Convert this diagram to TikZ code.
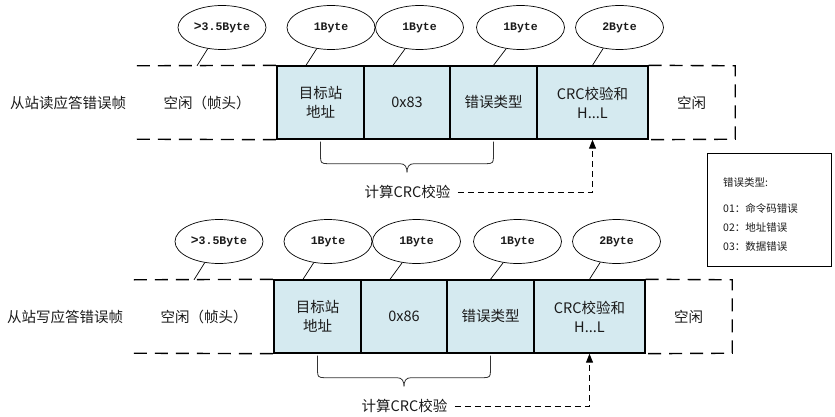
\documentclass[tikz,border=0pt]{standalone}
\usepackage{fontspec}
\setmainfont{Noto Sans CJK SC}
\newfontfamily\bytefont{Liberation Mono}
\usetikzlibrary{shapes.geometric,arrows.meta,calc}
\definecolor{boxblue}{HTML}{D5EAF0}
\definecolor{txt}{HTML}{1A1A1A}
\newcommand\myrow[5]{%
\node[lbl] (lab#1) at (68+#4,103+#5) {#2};
\node[idle,minimum width=140pt] (il#1) at (207+#4,102.5+#5) {空闲（帧头）};
\node[fld,minimum width=87pt] (ba#1) at (320.5+#4,102.5+#5) {目标站\\地址};
\node[fld,minimum width=86pt] (bb#1) at (407+#4,102.5+#5) {#3};
\node[fld,minimum width=87pt] (bc#1) at (493.5+#4,102.5+#5) {错误类型};
\node[fld,minimum width=111pt] (bd#1) at (592.5+#4,102.5+#5) {CRC校验和\\H...L};
\node[idle,minimum width=87pt] (ir#1) at (691.5+#4,102.5+#5) {空闲};
\draw[frm] (il#1.north west) -- (ba#1.north west);
\draw[frm] (il#1.south west) -- (ba#1.south west);
\draw[frm] (bd#1.north east) -- (ir#1.north east) -- (ir#1.south east) -- (bd#1.south east);
\node[bt] (ea#1) at (222+#4,27.5+#5) {{\fontsize{13}{12}\selectfont>}3.5Byte};
\node[bt] (eb#1) at (331+#4,27.5+#5) {1Byte};
\node[bt] (ec#1) at (419.5+#4,27.5+#5) {1Byte};
\node[bt] (ed#1) at (520.5+#4,27.5+#5) {1Byte};
\node[bt] (ee#1) at (619.5+#4,27.5+#5) {2Byte};
\draw[call] (ea#1.-124) -- ([xshift=-10pt]il#1.north);
\draw[call] (eb#1.-124) -- ([xshift=-14.5pt]ba#1.north);
\draw[call] (ec#1.-124) -- ([xshift=-14pt]bb#1.north);
\draw[call] (ed#1.-124) -- (bc#1.north);
\draw[call] (ee#1.-128) -- (bd#1.north);
\draw[brc] let \p1=(ba#1.south), \p2=(bc#1.south), \p3=(bb#1.south) in
  (\x1,\y1-2pt) -- (\x1,\y1-17pt) .. controls (\x1,\y1-23pt) and (\x1+1pt,\y1-24pt) .. (\x1+7pt,\y1-24pt)
  -- (\x3-7pt,\y1-24pt) .. controls (\x3-2pt,\y1-24pt) and (\x3,\y1-27pt) .. (\x3,\y1-33pt)
  .. controls (\x3,\y1-27pt) and (\x3+2pt,\y1-24pt) .. (\x3+7pt,\y1-24pt)
  -- (\x2-7pt,\y1-24pt) .. controls (\x2-1pt,\y1-24pt) and (\x2,\y1-23pt) .. (\x2,\y1-17pt) -- (\x2,\y1-2pt);
\node[lbl] (crc#1) at (407.5+#4,192+#5) {计算CRC校验};
\draw[crcarrow] (crc#1) -- (crc#1 -| bd#1.south) -- (bd#1.south);
}
\begin{document}
\begin{tikzpicture}[x=1pt,y=-1pt,
  every node/.style={text=txt},
  fld/.style={draw,line width=1.4pt,fill=boxblue,minimum height=73pt,inner sep=0pt,align=center,font=\fontsize{14.5}{19}\selectfont},
  idle/.style={minimum height=73pt,inner sep=0pt,align=center,font=\fontsize{14.5}{19}\selectfont},
  frm/.style={line width=1.4pt,dash pattern=on 13pt off 8pt},
  bt/.style={ellipse,draw,line width=0.7pt,minimum width=88pt,minimum height=44pt,inner sep=0pt,font=\bytefont\bfseries\fontsize{11.5}{12}\selectfont},
  call/.style={line width=0.7pt},
  brc/.style={line width=0.8pt,draw=black!80},
  crcarrow/.style={line width=1pt,dash pattern=on 6pt off 4pt,shorten <=4pt,-{Triangle[length=9pt,width=7pt]}},
  lbl/.style={font=\fontsize{14.5}{19}\selectfont},
  lgt/.style={anchor=west,inner sep=0pt,font=\fontsize{10.5}{12}\selectfont}
]
\useasboundingbox (0,0) rectangle (835,417);
\myrow{r}{从站读应答错误帧}{0x83}{0}{0}
\myrow{w}{从站写应答错误帧}{0x86}{-3}{214}
\node[draw,line width=1pt,minimum width=124pt,minimum height=113pt,inner sep=0pt] (lg) at (769,209.5) {};
\node[lgt] (lg0) at (723,183) {错误类型:};
\node[lgt] (lg1) at (723,208) {01：命令码错误};
\node[lgt] (lg2) at (723,228) {02：地址错误};
\node[lgt] (lg3) at (723,247) {03：数据错误};
\end{tikzpicture}
\end{document}
